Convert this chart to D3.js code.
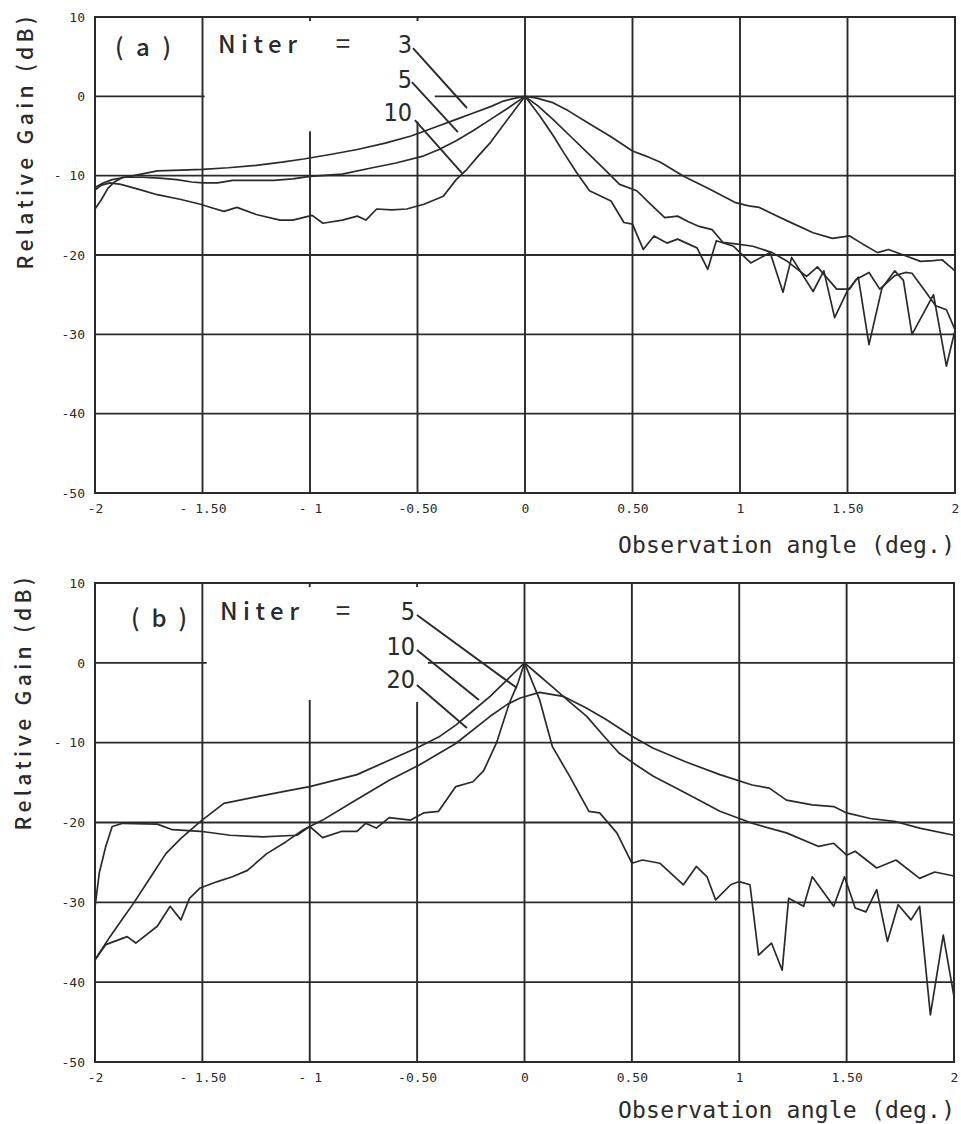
<!DOCTYPE html>
<html>
<head>
<meta charset="utf-8">
<script src="https://cdn.jsdelivr.net/npm/d3@7"></script>
<style>
  body { margin: 0; background: #fff; }
  svg { display: block; }
</style>
</head>
<body>
<div id="chart"></div>
<script>
// tick values and labels (shared by both panels)
var xTicks = [-2, -1.5, -1, -0.5, 0, 0.5, 1, 1.5, 2];
var xTickLabels = ["-2", "- 1.50", "- 1", "-0.50", "0", "0.50", "1", "1.50", "2"];
var yTicks = [10, 0, -10, -20, -30, -40, -50];
var yTickLabels = ["10", "0", "- 10", "-20", "-30", "-40", "-50"];

// (a) series names and [angle (deg), relative gain (dB)]
var seriesA = ["3", "5", "10"];
var gainA3 = [[-2,-11.5],[-1.96,-10.9],[-1.92,-10.5],[-1.86,-10.2],[-1.82,-10.0],[-1.71,-9.4],[-1.6,-9.3],[-1.5,-9.2],[-1.38,-9.0],[-1.25,-8.7],[-1.13,-8.3],[-1.03,-7.9],[-0.9,-7.3],[-0.78,-6.7],[-0.65,-5.9],[-0.53,-5.0],[-0.4,-3.7],[-0.32,-2.9],[-0.24,-2.1],[-0.16,-1.3],[-0.1,-0.6],[-0.04,-0.2],[0,0],[0.05,-0.2],[0.13,-0.8],[0.2,-1.8],[0.29,-3.3],[0.4,-5.1],[0.5,-6.9],[0.56,-7.5],[0.63,-8.3],[0.74,-10.1],[0.86,-11.7],[0.98,-13.4],[1.04,-13.8],[1.09,-14.0],[1.15,-14.8],[1.22,-15.7],[1.34,-17.2],[1.43,-17.9],[1.51,-17.6],[1.57,-18.6],[1.64,-19.7],[1.69,-19.3],[1.76,-20.0],[1.84,-20.8],[1.9,-20.7],[1.94,-20.6],[1.97,-21.3],[2,-22.0]];
var gainA5 = [[-2,-14.2],[-1.97,-13.0],[-1.94,-11.6],[-1.91,-10.8],[-1.87,-10.2],[-1.78,-10.2],[-1.7,-10.3],[-1.62,-10.5],[-1.55,-10.8],[-1.5,-10.9],[-1.43,-10.9],[-1.36,-10.6],[-1.25,-10.6],[-1.17,-10.6],[-1.08,-10.4],[-1,-10.1],[-0.85,-9.8],[-0.71,-9.0],[-0.6,-8.4],[-0.47,-7.5],[-0.4,-6.7],[-0.32,-5.6],[-0.24,-4.3],[-0.16,-2.9],[-0.08,-1.5],[0,0],[0.06,-1.2],[0.13,-2.9],[0.21,-5.0],[0.29,-7.1],[0.37,-9.2],[0.44,-11.1],[0.52,-11.9],[0.58,-13.5],[0.65,-15.3],[0.71,-15.1],[0.76,-15.8],[0.81,-16.4],[0.87,-16.8],[0.92,-18.4],[0.98,-18.6],[1.06,-18.9],[1.15,-19.7],[1.22,-20.8],[1.31,-22.7],[1.36,-21.5],[1.45,-24.3],[1.51,-24.3],[1.54,-23.1],[1.6,-22.2],[1.65,-24.3],[1.72,-22.6],[1.77,-22.2],[1.8,-22.3],[1.86,-24.5],[1.91,-26.4],[1.96,-26.9],[2,-29.4]];
var gainA10 = [[-2,-11.8],[-1.97,-11.2],[-1.93,-10.9],[-1.88,-11.1],[-1.8,-11.7],[-1.71,-12.4],[-1.6,-13.0],[-1.51,-13.6],[-1.45,-14.1],[-1.4,-14.5],[-1.34,-14.0],[-1.25,-14.9],[-1.14,-15.6],[-1.08,-15.6],[-0.99,-15.0],[-0.94,-16.0],[-0.85,-15.6],[-0.78,-15.1],[-0.74,-15.6],[-0.69,-14.2],[-0.62,-14.3],[-0.55,-14.2],[-0.47,-13.6],[-0.38,-12.6],[-0.32,-10.5],[-0.27,-9.2],[-0.22,-7.6],[-0.16,-5.8],[-0.07,-2.5],[0,0],[0.07,-2.5],[0.13,-4.9],[0.18,-7.1],[0.24,-9.6],[0.3,-11.9],[0.4,-13.2],[0.46,-15.9],[0.5,-16.1],[0.55,-19.3],[0.6,-17.6],[0.66,-18.5],[0.71,-18.0],[0.8,-19.1],[0.85,-21.8],[0.89,-18.2],[0.97,-18.9],[1.05,-21.0],[1.14,-19.7],[1.2,-24.7],[1.24,-20.3],[1.34,-24.6],[1.39,-22.0],[1.44,-27.9],[1.5,-24.5],[1.55,-22.8],[1.6,-31.3],[1.66,-24.2],[1.72,-22.0],[1.76,-23.2],[1.8,-30.0],[1.86,-27.0],[1.9,-25.0],[1.96,-34.0],[2,-29.5]];

// (b) series names and [angle (deg), relative gain (dB)]
var seriesB = ["5", "10", "20"];
var gainB5 = [[-2,-30.6],[-1.98,-26.3],[-1.95,-23.0],[-1.92,-20.5],[-1.87,-20.1],[-1.71,-20.2],[-1.64,-20.9],[-1.51,-21.1],[-1.37,-21.6],[-1.22,-21.8],[-1.06,-21.6],[-1,-20.5],[-0.94,-21.9],[-0.85,-21.1],[-0.78,-21.1],[-0.74,-20.1],[-0.69,-20.7],[-0.63,-19.4],[-0.53,-19.7],[-0.47,-18.8],[-0.4,-18.6],[-0.32,-15.5],[-0.24,-14.9],[-0.19,-13.5],[-0.13,-10.0],[-0.07,-5.0],[-0.03,-2.5],[0,0],[0.07,-4.6],[0.13,-10.5],[0.21,-14.2],[0.3,-18.6],[0.35,-18.8],[0.43,-21.3],[0.5,-25.1],[0.55,-24.7],[0.63,-25.1],[0.74,-27.8],[0.8,-25.5],[0.85,-26.8],[0.89,-29.7],[0.96,-27.8],[1,-27.4],[1.05,-27.8],[1.09,-36.6],[1.15,-35.1],[1.2,-38.5],[1.23,-29.5],[1.3,-30.5],[1.34,-26.8],[1.44,-30.5],[1.49,-26.8],[1.54,-30.7],[1.59,-31.2],[1.64,-28.4],[1.69,-34.9],[1.74,-30.3],[1.8,-32.2],[1.84,-30.5],[1.89,-44.1],[1.95,-34.1],[2,-41.8]];
var gainB10 = [[-2,-37.2],[-1.93,-34.3],[-1.87,-32.0],[-1.82,-30.1],[-1.74,-26.8],[-1.67,-23.9],[-1.6,-22.0],[-1.51,-19.9],[-1.4,-17.6],[-1.25,-16.8],[-1.1,-16.0],[-1,-15.5],[-0.78,-14.0],[-0.63,-12.2],[-0.49,-10.5],[-0.4,-9.3],[-0.32,-7.8],[-0.24,-6.0],[-0.16,-4.2],[-0.08,-2.1],[0,0],[0.06,-1.4],[0.13,-3.0],[0.21,-4.9],[0.29,-6.7],[0.37,-9.2],[0.44,-11.3],[0.52,-12.8],[0.6,-14.2],[0.75,-16.3],[0.91,-18.6],[1.06,-20.1],[1.22,-21.3],[1.37,-23.0],[1.44,-22.6],[1.5,-24.1],[1.54,-23.6],[1.64,-25.7],[1.73,-24.7],[1.84,-27.0],[1.91,-26.2],[2,-26.7]];
var gainB20 = [[-2,-37.2],[-1.95,-35.3],[-1.85,-34.3],[-1.81,-35.1],[-1.71,-33.0],[-1.65,-30.5],[-1.6,-32.2],[-1.56,-29.5],[-1.51,-28.2],[-1.43,-27.4],[-1.36,-26.8],[-1.29,-26.0],[-1.2,-23.9],[-1.11,-22.4],[-1.03,-20.9],[-0.94,-19.7],[-0.81,-17.6],[-0.63,-14.7],[-0.49,-12.8],[-0.32,-10.1],[-0.16,-6.7],[-0.08,-5.2],[-0.02,-4.4],[0.07,-3.7],[0.18,-4.2],[0.29,-5.7],[0.38,-7.1],[0.5,-9.2],[0.6,-10.7],[0.75,-12.4],[0.91,-14.0],[1.06,-15.3],[1.14,-15.7],[1.22,-17.2],[1.34,-17.8],[1.44,-18.0],[1.5,-18.8],[1.61,-19.5],[1.73,-19.9],[1.84,-20.7],[2,-21.6]];

var ink = "#2a2a2a";
var width = 961, height = 1124;

var svg = d3.select("#chart").append("svg")
  .attr("width", width)
  .attr("height", height);

function drawPanel(cfg) {
  var x = d3.scaleLinear().domain([-2, 2]).range([cfg.left, cfg.right]);
  var y = d3.scaleLinear().domain([-50, 10]).range([cfg.bottom, cfg.top]);
  var g = svg.append("g");

  // horizontal grid, the 0 dB line has a gap behind the labels
  [-10, -20, -30, -40].forEach(function(v) {
    g.append("line").attr("x1", x(-2)).attr("x2", x(2)).attr("y1", y(v)).attr("y2", y(v));
  });
  g.append("line").attr("x1", x(-2)).attr("x2", x(cfg.zeroStop)).attr("y1", y(0)).attr("y2", y(0));
  g.append("line").attr("x1", x(cfg.zeroResume)).attr("x2", x(2)).attr("y1", y(0)).attr("y2", y(0));

  // vertical grid, -1 and -0.5 start below the labels
  [-1.5, -1, -0.5, 0, 0.5, 1, 1.5].forEach(function(v) {
    var top = cfg.vStart[v] !== undefined ? cfg.vStart[v] : 10;
    g.append("line").attr("x1", x(v)).attr("x2", x(v)).attr("y1", y(top)).attr("y2", y(-50));
    if (top !== 10) {
      g.append("line").attr("x1", x(v)).attr("x2", x(v)).attr("y1", y(10)).attr("y2", y(10) + 4);
    }
  });
  g.selectAll("line").attr("stroke", ink).attr("stroke-width", 1.9);

  // frame
  g.append("rect")
    .attr("x", x(-2)).attr("y", y(10))
    .attr("width", x(2) - x(-2)).attr("height", y(-50) - y(10))
    .attr("fill", "none").attr("stroke", ink).attr("stroke-width", 2);

  // curves
  var line = d3.line().x(function(d) { return x(d[0]); }).y(function(d) { return y(d[1]); });
  cfg.series.forEach(function(s) {
    g.append("path").attr("d", line(s)).attr("fill", "none")
      .attr("stroke", ink).attr("stroke-width", 1.7).attr("stroke-linejoin", "round");
  });

  // leader lines from the Niter numbers to the curves
  cfg.leaders.forEach(function(l) {
    g.append("line")
      .attr("x1", x(l[0][0])).attr("y1", y(l[0][1]))
      .attr("x2", x(l[1][0])).attr("y2", y(l[1][1]))
      .attr("stroke", ink).attr("stroke-width", 1.9);
  });

  // tick labels
  var xAxis = g.append("g")
    .attr("transform", "translate(0," + cfg.bottom + ")")
    .call(d3.axisBottom(x).tickValues(xTicks)
      .tickFormat(function(d, i) { return xTickLabels[i]; })
      .tickSize(0).tickPadding(11));
  var yAxis = g.append("g")
    .attr("transform", "translate(" + cfg.left + ",0)")
    .call(d3.axisLeft(y).tickValues(yTicks)
      .tickFormat(function(d, i) { return yTickLabels[i]; })
      .tickSize(0).tickPadding(10));
  [xAxis, yAxis].forEach(function(a) {
    a.select(".domain").remove();
    a.selectAll("text")
      .attr("fill", ink)
      .style("font-family", "'DejaVu Sans Mono', monospace")
      .style("font-size", "13px");
  });

  // axis titles
  g.append("text")
    .attr("transform", "translate(" + cfg.yTitleX + "," + cfg.yTitleY + ") rotate(-90)")
    .attr("text-anchor", "middle").attr("dominant-baseline", "central")
    .attr("textLength", 253).attr("lengthAdjust", "spacing")
    .style("font-family", "'Noto Sans CJK JP', 'DejaVu Sans', sans-serif")
    .style("font-size", "21px").style("font-weight", 500).attr("fill", ink)
    .text("Relative Gain (dB)");
  g.append("text")
    .attr("x", 618).attr("y", cfg.xTitleY)
    .attr("dominant-baseline", "central")
    .attr("textLength", 337).attr("lengthAdjust", "spacing")
    .style("font-family", "'DejaVu Sans Mono', monospace")
    .style("font-size", "23px").attr("fill", ink)
    .text("Observation angle (deg.)");

  // panel label and Niter legend
  var gothic = "'Noto Sans CJK JP', 'DejaVu Sans', sans-serif";
  g.append("text").attr("x", cfg.tagX).attr("y", cfg.tagY)
    .attr("textLength", 56).attr("lengthAdjust", "spacing")
    .style("font-family", gothic).style("font-size", "24px").style("font-weight", 500).attr("fill", ink)
    .text(cfg.tag);
  g.append("text").attr("x", cfg.niterX).attr("y", cfg.niterY)
    .attr("textLength", 79).attr("lengthAdjust", "spacing")
    .style("font-family", gothic).style("font-size", "24px").style("font-weight", 500).attr("fill", ink)
    .text("Niter");
  g.append("text").attr("x", 343).attr("y", cfg.niterY)
    .attr("text-anchor", "middle")
    .style("font-family", gothic).style("font-size", "26px").attr("fill", ink)
    .text("=");
  cfg.names.forEach(function(n, i) {
    g.append("text").attr("x", cfg.numX).attr("y", cfg.numY[i])
      .attr("text-anchor", "end")
      .style("font-family", "'Liberation Sans Narrow', 'DejaVu Sans Condensed', sans-serif")
      .style("font-size", "25px").attr("fill", ink)
      .text(n);
  });
}

drawPanel({
  left: 95, right: 955, top: 17, bottom: 493,
  zeroStop: -1.49, zeroResume: -0.42,
  vStart: { "-1": -4.4, "-0.5": -3.2 },
  series: [gainA3, gainA5, gainA10],
  names: seriesA,
  leaders: [[[-0.521, 6.09], [-0.27, -1.47]], [[-0.526, 1.8], [-0.312, -4.5]], [[-0.512, -2.99], [-0.293, -9.67]]],
  yTitleX: 24, yTitleY: 143, xTitleY: 545,
  tag: "(a)", tagX: 115, tagY: 56,
  niterX: 218, niterY: 53,
  numX: 412, numY: [53, 88, 121]
});

drawPanel({
  left: 95, right: 954, top: 583, bottom: 1062,
  zeroStop: -1.48, zeroResume: -0.45,
  vStart: { "-1": -4.66, "-0.5": -4.9 },
  series: [gainB5, gainB10, gainB20],
  names: seriesB,
  leaders: [[[-0.501, 5.99], [-0.035, -3.16]], [[-0.501, 1.6], [-0.212, -4.66]], [[-0.501, -2.78], [-0.268, -8.17]]],
  yTitleX: 22, yTitleY: 704, xTitleY: 1110,
  tag: "(b)", tagX: 131, tagY: 627,
  niterX: 220, niterY: 620,
  numX: 415, numY: [620, 655, 688]
});
</script>
</body>
</html>
